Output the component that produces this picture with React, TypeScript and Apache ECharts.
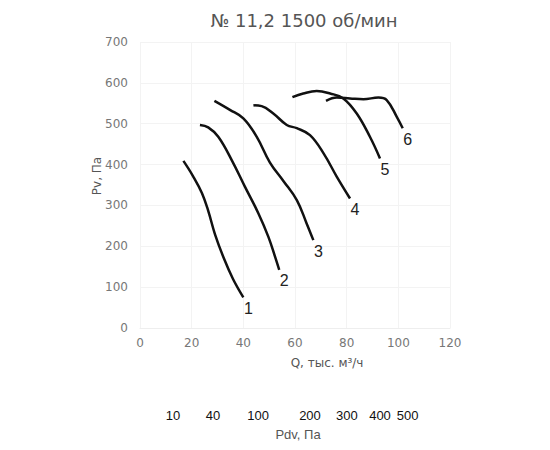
import React, { useEffect, useRef } from "react";
import * as echarts from "echarts";

const curveNames = ["1", "2", "3", "4", "5", "6"];

const q1 = [16.8, 20.5, 24, 26.5, 29, 32.5, 36, 40];
const p1 = [409, 372, 330, 285, 230, 170, 120, 75];

const q2 = [23.2, 26.4, 30.3, 35.5, 40.6, 45.8, 49.7, 52.3, 53.9];
const p2 = [497, 491, 468, 411, 346, 281, 223, 174, 142];

const q3 = [28.8, 34.8, 40, 45.2, 50.3, 55.5, 60.7, 64.5, 67.1];
const p3 = [556, 534, 513, 468, 405, 360, 313, 256, 215];

const q4 = [43.9, 47.1, 51.6, 56.8, 60.7, 65.8, 71, 76.2, 81.3];
const p4 = [545, 543, 525, 497, 489, 472, 428, 370, 317];

const q5 = [59, 63.2, 68.4, 73.6, 78.7, 83.9, 89, 92.9];
const p5 = [565, 574, 580, 574, 562, 525, 468, 415];

const q6 = [72, 76.2, 81.3, 86.5, 92.3, 95.5, 99.4, 101.7];
const p6 = [556, 564, 562, 560, 564, 558, 517, 489];

const qSets = [q1, q2, q3, q4, q5, q6];
const pSets = [p1, p2, p3, p4, p5, p6];

// dynamic pressure scale: labels and their positions on the Q scale
const pdvLabels = ["10", "40", "100", "200", "300", "400", "500"];
const pdvAtQ = [12.8, 28.3, 45.7, 65.8, 80.1, 92.9, 103.6];

const titleText = "№ 11,2 1500 об/мин";

export default function App() {
  const ref = useRef<HTMLDivElement>(null);
  useEffect(() => {
    document.body.style.margin = "0";
    if (!ref.current) return;
    const chart = echarts.init(ref.current, null, { renderer: "svg" });
    const axisFont = "DejaVu Sans";
    const series: any[] = qSets.map((qs, i) => ({
      type: "line",
      name: curveNames[i],
      xAxisIndex: 0,
      yAxisIndex: 0,
      data: qs.map((q, j) => [q, pSets[i][j]]),
      smooth: 0.4,
      showSymbol: false,
      symbol: "none",
      lineStyle: { color: "#111", width: 2.5 },
      itemStyle: { color: "#111" },
      endLabel: {
        show: true,
        formatter: curveNames[i],
        distance: 0,
        offset: [5, 11],
        align: "center",
        verticalAlign: "middle",
        fontFamily: "Liberation Sans",
        fontSize: 16,
        color: "#222",
      },
    }));
    chart.setOption({
      animation: false,
      backgroundColor: "#fff",
      title: {
        text: titleText,
        left: 299,
        top: 6,
        textAlign: "center",
        textStyle: {
          fontFamily: axisFont,
          fontWeight: "normal",
          fontSize: 18,
          color: "#555",
        },
      },
      grid: { left: 140, top: 42, right: 100, bottom: 122 },
      xAxis: [
        {
          type: "value",
          min: 0,
          max: 120,
          interval: 20,
          name: "Q, тыс. м³/ч",
          nameLocation: "middle",
          nameGap: 29,
          nameTextStyle: {
            fontFamily: axisFont,
            fontSize: 12,
            color: "#555",
            padding: [0, 0, 0, 64],
          },
          axisLine: { show: true, lineStyle: { color: "#eee" } },
          axisTick: { show: false },
          axisLabel: { fontFamily: axisFont, fontSize: 12, color: "#777", margin: 9 },
          splitLine: { show: true, lineStyle: { color: "#f3f3f3" } },
        },
        {
          type: "value",
          min: 0,
          max: 120,
          position: "bottom",
          offset: 81,
          name: "Pdv, Па",
          nameLocation: "middle",
          nameGap: 19,
          nameTextStyle: {
            fontFamily: "Liberation Sans",
            fontSize: 13,
            color: "#555",
            padding: [0, 0, 0, 6],
          },
          axisLine: { show: false },
          axisTick: { show: false },
          splitLine: { show: false },
          axisLabel: {
            customValues: pdvAtQ,
            formatter: (v: number) => {
              const k = pdvAtQ.indexOf(v);
              return k >= 0 ? pdvLabels[k] : "";
            },
            fontFamily: "Liberation Sans",
            fontSize: 13,
            color: "#111",
            margin: 0,
          },
        },
      ],
      yAxis: {
        type: "value",
        min: 0,
        max: 700,
        interval: 100,
        name: "Pv, Па",
        nameLocation: "middle",
        nameGap: 37,
        nameMoveOverlap: false,
        nameTextStyle: {
          fontFamily: axisFont,
          fontSize: 12,
          color: "#555",
          padding: [0, 0, 0, 18],
        },
        axisLine: { show: false },
        axisTick: { show: false },
        axisLabel: { fontFamily: axisFont, fontSize: 12, color: "#777", margin: 12 },
        splitLine: { show: true, lineStyle: { color: "#f3f3f3" } },
      },
      series,
    });
    return () => chart.dispose();
  }, []);
  return <div ref={ref} style={{ width: 550, height: 450 }} />;
}
